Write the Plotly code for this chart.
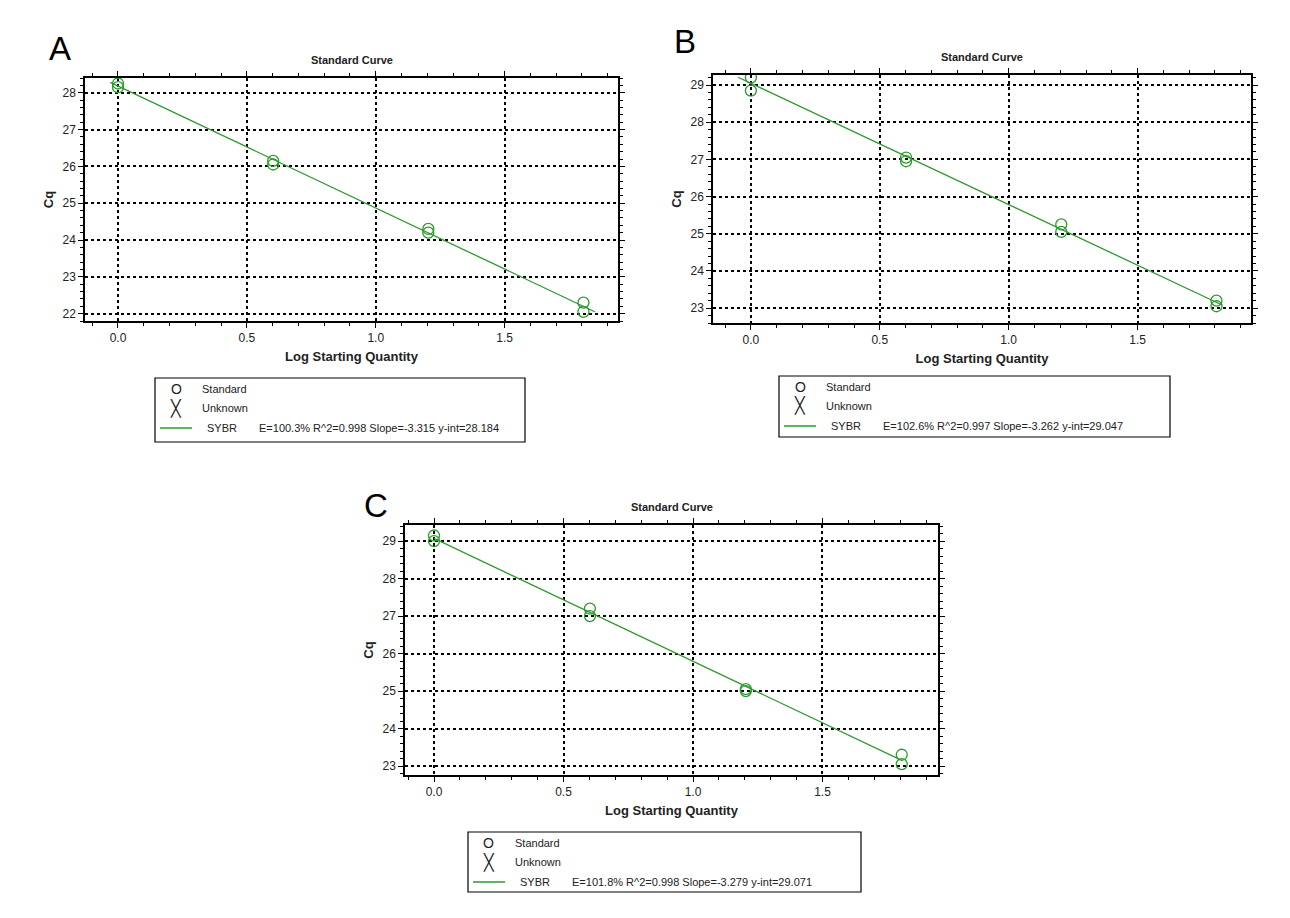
import numpy as np
import plotly.graph_objects as go

W, H = 1290, 918

# log starting quantity per well
log_qty = [0.0, 0.0, 0.602, 0.602, 1.204, 1.204, 1.806, 1.806]

cq_a = [28.25, 28.15, 26.15, 26.05, 24.3, 24.2, 22.3, 22.05]
cq_b = [29.2, 28.85, 27.05, 26.95, 25.25, 25.05, 23.2, 23.05]
cq_c = [29.15, 29.0, 27.2, 27.0, 25.05, 25.0, 23.3, 23.05]

slopes = [-3.315, -3.262, -3.279]
intercepts = [28.184, 29.047, 29.071]
fit_text = ["E=100.3% R^2=0.998 Slope=-3.315 y-int=28.184",
            "E=102.6% R^2=0.997 Slope=-3.262 y-int=29.047",
            "E=101.8% R^2=0.998 Slope=-3.279 y-int=29.071"]
letters = ["A", "B", "C"]

# layout of each panel in pixels: plot box, axis ranges, legend box, fit x-span
panels = [
    dict(cq=cq_a, box=(77, 70, 610, 313), xr=(-0.128, 1.94), yr=(21.8, 28.4),
         leg=(147, 370, 517, 434), fx=(-0.03, 1.85), letter=(52, 40)),
    dict(cq=cq_b, box=(705, 67, 1243, 315), xr=(-0.147, 1.94), yr=(22.6, 29.27),
         leg=(771, 368, 1162, 429), fx=(-0.05, 1.83), letter=(677, 34)),
    dict(cq=cq_c, box=(397, 517, 930, 767), xr=(-0.112, 1.946), yr=(22.76, 29.43),
         leg=(460, 824, 853, 884), fx=(0.0, 1.8), letter=(368, 497)),
]

GREEN = "#2e9a2e"
fig = go.Figure()
shapes, annotations = [], []


def px(x):
    return x / W


def py(y):
    return 1 - y / H


def note(x, y, text, font, xanchor="center"):
    annotations.append(dict(x=px(x), y=py(y), xref="paper", yref="paper", text=text,
                            showarrow=False, xanchor=xanchor, yanchor="middle", font=font))


for i, p in enumerate(panels):
    n = "" if i == 0 else str(i + 1)
    x0, y0, x1, y1 = p["box"]
    fx = np.array(p["fx"])
    fig.add_trace(go.Scatter(x=fx, y=intercepts[i] + slopes[i] * fx, mode="lines",
                             line=dict(color=GREEN, width=1.3), xaxis="x" + n, yaxis="y" + n,
                             showlegend=False, hoverinfo="skip"))
    fig.add_trace(go.Scatter(x=log_qty, y=p["cq"], mode="markers",
                             marker=dict(symbol="circle-open", size=11, color=GREEN, line=dict(width=1.3)),
                             xaxis="x" + n, yaxis="y" + n, showlegend=False))
    axstyle = dict(showline=True, linecolor="black", linewidth=1.5, mirror="allticks",
                   ticks="outside", ticklen=5, tickcolor="black", showgrid=True,
                   gridcolor="black", griddash="dot", gridwidth=1.5, zeroline=False,
                   tickfont=dict(family="Liberation Sans, Arial", size=12, color="#222"),
                   minor=dict(ticks="outside", ticklen=3, tickcolor="black", showgrid=False))
    fig.layout["xaxis" + n] = dict(axstyle, domain=[px(x0), px(x1)], range=list(p["xr"]),
                                   anchor="y" + n, dtick=0.5, tickformat=".1f",
                                   minor=dict(axstyle["minor"], dtick=0.1),
                                   title=dict(text="<b>Log Starting Quantity</b>",
                                              font=dict(family="Liberation Sans, Arial", size=13, color="#222"),
                                              standoff=8))
    fig.layout["yaxis" + n] = dict(axstyle, domain=[py(y1), py(y0)], range=list(p["yr"]),
                                   anchor="x" + n, dtick=1,
                                   minor=dict(axstyle["minor"], dtick=0.2),
                                   title=dict(text="<b>Cq</b>",
                                              font=dict(family="Liberation Sans, Arial", size=13, color="#222"),
                                              standoff=6))
    note((x0 + x1) / 2, y0 - 18, "<b>Standard Curve</b>",
         dict(family="Liberation Sans, Arial", size=11, color="#222"))
    lx, ly = p["letter"]
    note(lx, ly, letters[i], dict(family="Liberation Sans, Arial", size=33, color="black"))
    # legend box
    a0, b0, a1, b1 = p["leg"]
    shapes.append(dict(type="rect", xref="paper", yref="paper", x0=px(a0), x1=px(a1),
                       y0=py(b1), y1=py(b0), line=dict(color="black", width=1.2)))
    rows = [b0 + 11, b0 + 30, b0 + 50]
    font = dict(family="Liberation Sans, Arial", size=11, color="#222")
    note(a0 + 21, rows[0], "O", dict(family="Liberation Sans, Arial", size=14, color="#222"))
    note(a0 + 21, rows[1], "╳", dict(family="DejaVu Sans", size=16, color="#222"))
    note(a0 + 45, rows[0], "Standard", font, "left")
    note(a0 + 45, rows[1], "Unknown", font, "left")
    shapes.append(dict(type="line", xref="paper", yref="paper", x0=px(a0 + 5), x1=px(a0 + 37),
                       y0=py(rows[2]), y1=py(rows[2]), line=dict(color=GREEN, width=1.5)))
    note(a0 + 50, rows[2], "SYBR", font, "left")
    note(a0 + 102, rows[2], fit_text[i], font, "left")

fig.update_layout(width=W, height=H, margin=dict(l=0, r=0, t=0, b=0),
                  paper_bgcolor="white", plot_bgcolor="white",
                  shapes=shapes, annotations=annotations)
fig.write_html("out.html")
